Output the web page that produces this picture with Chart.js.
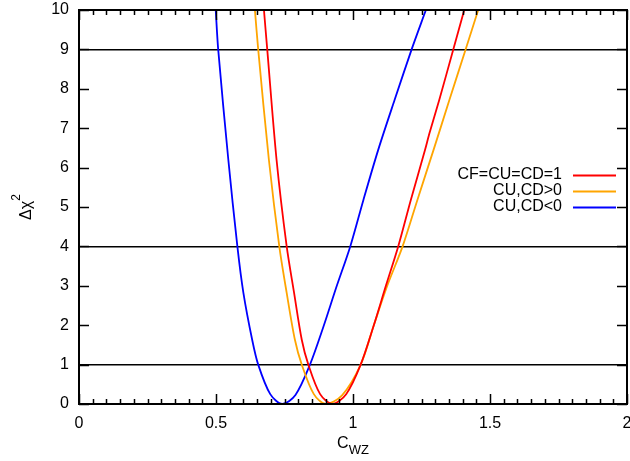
<!DOCTYPE html>
<html>
<head>
<meta charset="utf-8">
<script src="https://cdn.jsdelivr.net/npm/chart.js@4/dist/chart.umd.min.js"></script>
<style>
  html, body { margin: 0; padding: 0; background: #fff; }
  #wrap { width: 630px; height: 461px; }
</style>
</head>
<body>
<div id="wrap"><canvas id="chart"></canvas></div>
<script>
'use strict';
// series (x = C_WZ, y = delta chi^2)
const redX = [0.675, 0.687, 0.721, 0.758, 0.785, 0.813, 0.837, 0.880, 0.925, 0.975, 1.028, 1.076, 1.120, 1.165, 1.211, 1.263, 1.279, 1.315, 1.366, 1.406];
const redY = [10, 9, 6.2, 4, 2.82, 1.63, 1, 0.25, 0, 0.25, 1, 2.0, 3.0, 4, 5.18, 6.45, 6.87, 7.72, 9, 10];

const orangeX = [0.642, 0.654, 0.693, 0.731, 0.758, 0.788, 0.813, 0.857, 0.900, 0.960, 1.028, 1.076, 1.125, 1.181, 1.235, 1.294, 1.352, 1.411, 1.457];
const orangeY = [10, 9, 6.2, 4, 2.82, 1.63, 1, 0.25, 0, 0.22, 1, 2.0, 3.0, 4, 5.18, 6.45, 7.72, 9, 10];

const blueX = [0.499, 0.508, 0.545, 0.578, 0.600, 0.632, 0.654, 0.698, 0.742, 0.790, 0.843, 0.892, 0.940, 0.990, 1.038, 1.092, 1.152, 1.214, 1.266];
const blueY = [10, 9, 6.2, 4, 2.82, 1.63, 1, 0.25, 0, 0.23, 1, 1.96, 2.98, 4, 5.18, 6.45, 7.72, 9, 10];

const seriesLabels = ['CF=CU=CD=1', 'CU,CD>0', 'CU,CD<0'];
const seriesColors = ['#ff0000', '#ffa500', '#0000ff'];
const refLevels = [1, 4, 9]; // horizontal lines

const FONT = '"Liberation Sans", Arial, sans-serif';

function pts(xs, ys) {
    return xs.map((x, i) => ({ x: x, y: ys[i] }));
}

const isMajorX = v => Math.abs(v / 0.5 - Math.round(v / 0.5)) < 1e-6;

// ticks pointing inward on all four sides + frame
const frameTicks = {
    id: 'frameTicks',
    afterDraw(chart) {
        const ctx = chart.ctx;
        const a = chart.chartArea;
        const xs = chart.scales.x, ys = chart.scales.y;
        ctx.save();
        ctx.strokeStyle = '#000';
        ctx.lineWidth = 1.5;
        ctx.beginPath();
        xs.ticks.forEach(t => {
            const px = Math.round(xs.getPixelForValue(t.value)) + 0.5;
            const len = isMajorX(t.value) ? 10 : 5;
            ctx.moveTo(px, a.bottom); ctx.lineTo(px, a.bottom - len);
            ctx.moveTo(px, a.top); ctx.lineTo(px, a.top + len);
        });
        ys.ticks.forEach(t => {
            const py = Math.round(ys.getPixelForValue(t.value)) + 0.5;
            ctx.moveTo(a.left, py); ctx.lineTo(a.left + 10, py);
            ctx.moveTo(a.right, py); ctx.lineTo(a.right - 10, py);
        });
        ctx.stroke();
        ctx.lineWidth = 2;
        ctx.strokeRect(a.left, a.top, a.right - a.left, a.bottom - a.top);
        ctx.restore();
    }
};

// legend: text right aligned, line sample on the right
const keyBox = {
    id: 'keyBox',
    afterDraw(chart) {
        const ctx = chart.ctx;
        const a = chart.chartArea;
        ctx.save();
        ctx.font = '16px ' + FONT;
        ctx.textAlign = 'right';
        ctx.textBaseline = 'middle';
        chart.data.datasets.forEach((ds, i) => {
            const y = 175 + i * 16;
            ctx.fillStyle = '#000';
            ctx.fillText(ds.label, a.right - 65, y);
            ctx.strokeStyle = ds.borderColor;
            ctx.lineWidth = 1.8;
            ctx.beginPath();
            ctx.moveTo(a.right - 54, y + 0.5);
            ctx.lineTo(a.right - 11, y + 0.5);
            ctx.stroke();
        });
        ctx.restore();
    }
};

// axis titles with sub/superscripts
const axisTitles = {
    id: 'axisTitles',
    afterDraw(chart) {
        const ctx = chart.ctx;
        const a = chart.chartArea;
        const cx = (a.left + a.right) / 2;
        const cy = (a.top + a.bottom) / 2;
        ctx.save();
        ctx.fillStyle = '#000';
        ctx.textBaseline = 'alphabetic';
        ctx.textAlign = 'left';

        // x: C_WZ
        ctx.font = '16px ' + FONT;
        const wC = ctx.measureText('C').width;
        ctx.font = '13px ' + FONT;
        const wS = ctx.measureText('WZ').width;
        const x0 = cx - (wC + wS) / 2;
        ctx.font = '16px ' + FONT;
        ctx.fillText('C', x0, 448);
        ctx.font = '13px ' + FONT;
        ctx.fillText('WZ', x0 + wC, 454);

        // y: delta chi^2, rotated
        ctx.translate(30.5, cy);
        ctx.rotate(-Math.PI / 2);
        ctx.font = '16px ' + FONT;
        const wB = ctx.measureText('\u0394\u03c7').width;
        ctx.font = '12px ' + FONT;
        const wP = ctx.measureText('2').width;
        const y0 = -(wB + wP) / 2;
        ctx.font = '16px ' + FONT;
        ctx.fillText('\u0394\u03c7', y0, 0);
        ctx.font = '12px ' + FONT;
        ctx.fillText('2', y0 + wB, -11);
        ctx.restore();
    }
};

Chart.defaults.font.family = FONT;
Chart.defaults.font.size = 16;
Chart.defaults.color = '#000';

const chart = new Chart(document.getElementById('chart'), {
    type: 'scatter',
    data: {
        datasets: [
            { label: seriesLabels[0], data: pts(redX, redY), borderColor: seriesColors[0] },
            { label: seriesLabels[1], data: pts(orangeX, orangeY), borderColor: seriesColors[1] },
            { label: seriesLabels[2], data: pts(blueX, blueY), borderColor: seriesColors[2] }
        ].map(ds => Object.assign(ds, {
            showLine: true,
            pointRadius: 0,
            borderWidth: 1.8,
            backgroundColor: 'transparent',
            tension: 0.3
        }))
    },
    options: {
        responsive: true,
        maintainAspectRatio: false,
        animation: false,
        events: [],
        layout: { padding: { left: 0, right: 3, top: 10, bottom: 0 } },
        plugins: { legend: { display: false }, tooltip: { enabled: false } },
        scales: {
            x: {
                type: 'linear',
                min: 0,
                max: 2,
                ticks: {
                    stepSize: 0.05,
                    autoSkip: false,
                    maxRotation: 0,
                    padding: 10,
                    callback: v => isMajorX(v) ? String(Math.round(v * 10) / 10) : ''
                },
                grid: { drawOnChartArea: false, drawTicks: false },
                border: { display: false },
                afterFit: s => { s.height = 57; s.paddingLeft = 0; s.paddingRight = 0; }
            },
            y: {
                type: 'linear',
                min: 0,
                max: 10,
                ticks: { stepSize: 1, padding: 10 },
                grid: {
                    drawTicks: false,
                    lineWidth: 1.5,
                    color: c => refLevels.includes(c.tick.value) ? '#000' : 'transparent'
                },
                border: { display: false },
                afterFit: s => { s.width = 79; s.paddingTop = 0; s.paddingBottom = 0; }
            }
        }
    },
    plugins: [frameTicks, keyBox, axisTitles]
});
</script>
</body>
</html>
